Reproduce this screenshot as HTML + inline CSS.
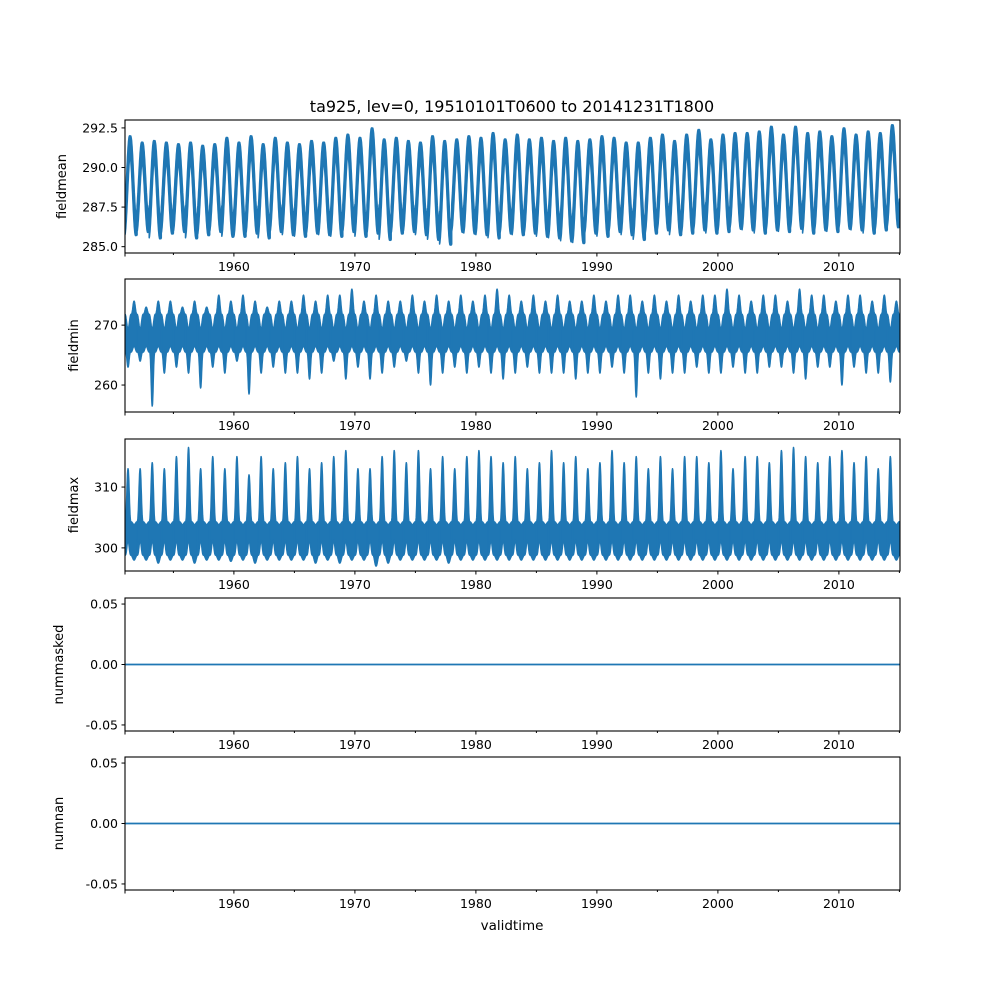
<!DOCTYPE html>
<html><head><meta charset="utf-8"><style>
html,body{margin:0;padding:0;background:#fff}
svg{display:block;font-family:"DejaVu Sans","Liberation Sans",sans-serif}
</style></head><body>
<svg id="fig" width="1000" height="1000" viewBox="0 0 1000 1000">
<rect width="1000" height="1000" fill="#fff"/>
<text x="512" y="112" text-anchor="middle" font-size="16">ta925, lev=0, 19510101T0600 to 20141231T1800</text>
<text x="512" y="930" text-anchor="middle" font-size="13.5">validtime</text>
</svg>
<script>
const years = [1951,1952,1953,1954,1955,1956,1957,1958,1959,1960,1961,1962,1963,1964,1965,1966,1967,1968,1969,1970,1971,1972,1973,1974,1975,1976,1977,1978,1979,1980,1981,1982,1983,1984,1985,1986,1987,1988,1989,1990,1991,1992,1993,1994,1995,1996,1997,1998,1999,2000,2001,2002,2003,2004,2005,2006,2007,2008,2009,2010,2011,2012,2013,2014];
const meanHigh = [292.0,291.6,291.7,291.6,291.5,291.6,291.4,291.5,291.9,291.6,292.0,291.5,291.9,291.6,291.5,291.7,291.6,291.9,292.1,291.9,292.5,291.8,291.9,291.7,291.6,292.0,291.7,291.8,292.0,291.9,292.2,291.8,292.1,291.8,291.9,291.7,291.9,291.7,291.8,292.0,291.9,291.6,291.6,291.9,292.1,291.7,292.1,292.4,291.8,292.1,292.2,292.2,292.3,292.6,292.1,292.6,292.2,292.3,292.0,292.5,292.1,292.3,292.2,292.7];
const meanLow = [285.7,285.9,285.5,285.8,285.9,285.5,285.7,285.9,285.6,285.6,285.8,285.5,285.9,285.7,285.6,285.8,285.7,285.6,285.9,285.6,285.8,285.4,285.8,285.9,285.7,285.4,285.1,285.9,285.8,285.7,285.5,285.8,285.7,285.8,285.6,285.5,285.3,285.2,285.8,285.6,285.9,285.7,285.4,285.8,286.0,285.7,285.8,286.0,285.8,285.9,286.1,286.0,285.8,286.0,285.9,286.1,285.8,286.0,285.9,286.1,286.0,285.8,286.0,286.2];
const minHigh = [274,273,274,274,273,274,273,275,274,275,274,273,274,274,275,274,275,275,276,274,275,274,274,275,274,275,274,275,274,275,276,275,274,275,274,275,274,274,275,274,275,275,274,275,274,275,274,275,275,276,275,274,275,275,274,276,275,275,274,275,275,274,275,274];
const minLow = [263,264,256.5,262,263,262,259.5,263,262,264,258.5,262,263,262,262,261,262,264,261,263,261,262,263,264,262,260,262,263,262,263,262,261,262,263,262,262,262,261,262,262,263,262,258,262,261,262,262,263,262,262,263,262,262,263,263,262,261,263,263,260,263,262,262,260.5];
const maxHigh = [313,313,314,313,315,316.5,313,315,313,315,312,315,313,314,315,313,314,315,316,313,313,315,316,314,316,313,315,313,315,316,315,314,315,313,314,316,314,315,313,314,316,314,315,313,315,313,315,315,314,316,313,315,315,314,316,316.5,315,314,315,316,314,315,313,315];
const maxLow = [298,298,297.5,298,298,297.5,298,298,297.8,298,297.5,298,298,298,298,297.5,298,297.5,298,298,297,297.5,298,298,298,298,297.5,298,298,298,298,298,298,298,298,298,298,298,298,298,298,298,298,298,298,298,298,298,298,298,298,298,298,298,298,298,298,298,298,298,298,298,298,298];
const numMasked = [0,0];
const numNan = [0,0];

const NS="http://www.w3.org/2000/svg";
const svg=document.getElementById('fig');
const L=125,R=900;
const xT0=1951,xT1=2015.05;
function xs(t){return L+(t-xT0)/(xT1-xT0)*(R-L);}
function mk(tag,attrs,parent){const e=document.createElementNS(NS,tag);for(const k in attrs)e.setAttribute(k,attrs[k]);(parent||svg).appendChild(e);return e;}

const panels=[
 {top:120,bot:253,y0:284.6,y1:293.0,ticks:[285.0,287.5,290.0,292.5],fmt:v=>v.toFixed(1),label:'fieldmean',name:'fieldmean'},
 {top:279,bot:412,y0:255.5,y1:277.7,ticks:[260,270],fmt:v=>String(v),label:'fieldmin',name:'fieldmin'},
 {top:439,bot:571,y0:296.2,y1:317.9,ticks:[300,310],fmt:v=>String(v),label:'fieldmax',name:'fieldmax'},
 {top:598,bot:731,y0:-0.055,y1:0.055,ticks:[-0.05,0,0.05],fmt:v=>v.toFixed(2),label:'nummasked',name:'nummasked'},
 {top:757,bot:890,y0:-0.055,y1:0.055,ticks:[-0.05,0,0.05],fmt:v=>v.toFixed(2),label:'numnan',name:'numnan'}
];
const blue='#1f77b4';
panels.forEach((p,pi)=>{
 const ys=v=>p.bot-(v-p.y0)/(p.y1-p.y0)*(p.bot-p.top);
 const g=mk('g',{});
 
 
 const clipId='c'+pi;
 const cp=mk('clipPath',{id:clipId},g);mk('rect',{x:L,y:p.top,width:R-L,height:p.bot-p.top},cp);
 const dg=mk('g',{'clip-path':'url(#'+clipId+')'},g);
 let d='';
 const N=48;
 if(pi===0){
  years.forEach((yr,i)=>{
   const hi=meanHigh[i],lo=meanLow[i];const w=0.5;
   let up=[],dn=[];
   const cf=(ph)=>(lo+w)+(hi-lo-2*w)*(0.5-0.5*Math.cos(2*Math.PI*(ph+0.08)));
   for(let k=0;k<=N;k++){const ph=k/N;
    const a=cf(ph+0.045),b=cf(ph-0.045);
    up.push(xs(yr+ph).toFixed(1)+','+ys(Math.max(a,b)+w).toFixed(1));dn.push(xs(yr+ph).toFixed(1)+','+ys(Math.min(a,b)-w).toFixed(1));}
   d+='M'+up.join('L')+'L'+dn.reverse().join('L')+'Z';
  });
 } else if(pi===1||pi===2){
  const hiA=pi===1?minHigh:maxHigh, loA=pi===1?minLow:maxLow;
  years.forEach((yr,i)=>{
   const hi=hiA[i],lo=loA[i];
   let up=[],dn=[];
   for(let k=0;k<=N;k++){const ph=k/N;
    const s=Math.sin(2*Math.PI*ph);
    let u,l;
    if(pi===1){
      const bLo=265.5,bHi=271.8;
      if(s>0){l=bLo-(bLo-lo)*Math.pow(s,4);u=bHi-2.5*Math.pow(s,2);}
      else{u=bHi+(hi-bHi)*Math.pow(-s,3);l=bLo+1.0*Math.pow(-s,2);}
    } else {
      const bLo=298.8,bHi=304.3;
      if(s>0){u=bHi+(hi-bHi)*Math.pow(s,3);l=bLo+2.5*Math.pow(s,3);}
      else{u=bHi-0.5*Math.pow(-s,2);l=bLo-(bLo-lo)*Math.pow(-s,2);}
    }
    up.push(xs(yr+ph).toFixed(1)+','+ys(u).toFixed(1));dn.push(xs(yr+ph).toFixed(1)+','+ys(l).toFixed(1));}
   d+='M'+up.join('L')+'L'+dn.reverse().join('L')+'Z';
  });
 }
 if(pi<3){
  const path=mk('path',{d:d,fill:blue,stroke:blue,'stroke-width':1.5,'stroke-linejoin':'round'},dg);
  
  
 } else {
  const arr=pi===3?numMasked:numNan;
  const ln=mk('line',{x1:L,x2:R,y1:ys(arr[0]),y2:ys(arr[1]),stroke:blue,'stroke-width':1.8},dg);
  
  
 }
 const fr=mk('rect',{x:L,y:p.top,width:R-L,height:p.bot-p.top,fill:'none',stroke:'#000','stroke-width':1.1},g);
 
 
 p.ticks.forEach(v=>{
  const y=ys(v);
  mk('line',{x1:L-3.5,x2:L,y1:y,y2:y,stroke:'#000','stroke-width':1},g);
  const t=mk('text',{x:L-7,y:y+4.5,'text-anchor':'end','font-size':12.5},g);t.textContent=p.fmt(v);
  
  
 });
 for(let yr=1955;yr<=2015;yr+=5){
  const x=xs(yr);const major=yr%10===0;
  mk('line',{x1:x,x2:x,y1:p.bot,y2:p.bot+(major?3.5:2),stroke:'#000','stroke-width':1},g);
  if(major&&yr<2015){const t=mk('text',{x:x,y:p.bot+18,'text-anchor':'middle','font-size':12.5},g);t.textContent=yr;
   
   }
 }
 mk('line',{x1:L,x2:L,y1:p.bot,y2:p.bot+3.5,stroke:'#000','stroke-width':1},g);
 const cy=(p.top+p.bot)/2;
 const lx=pi>=3?63:pi===0?66:78;
 const lab=mk('text',{x:lx,y:cy,'text-anchor':'middle','font-size':13,transform:'rotate(-90 '+lx+' '+cy+')'},g);
 lab.textContent=p.label;
 
 
});
</script>
</body></html>
